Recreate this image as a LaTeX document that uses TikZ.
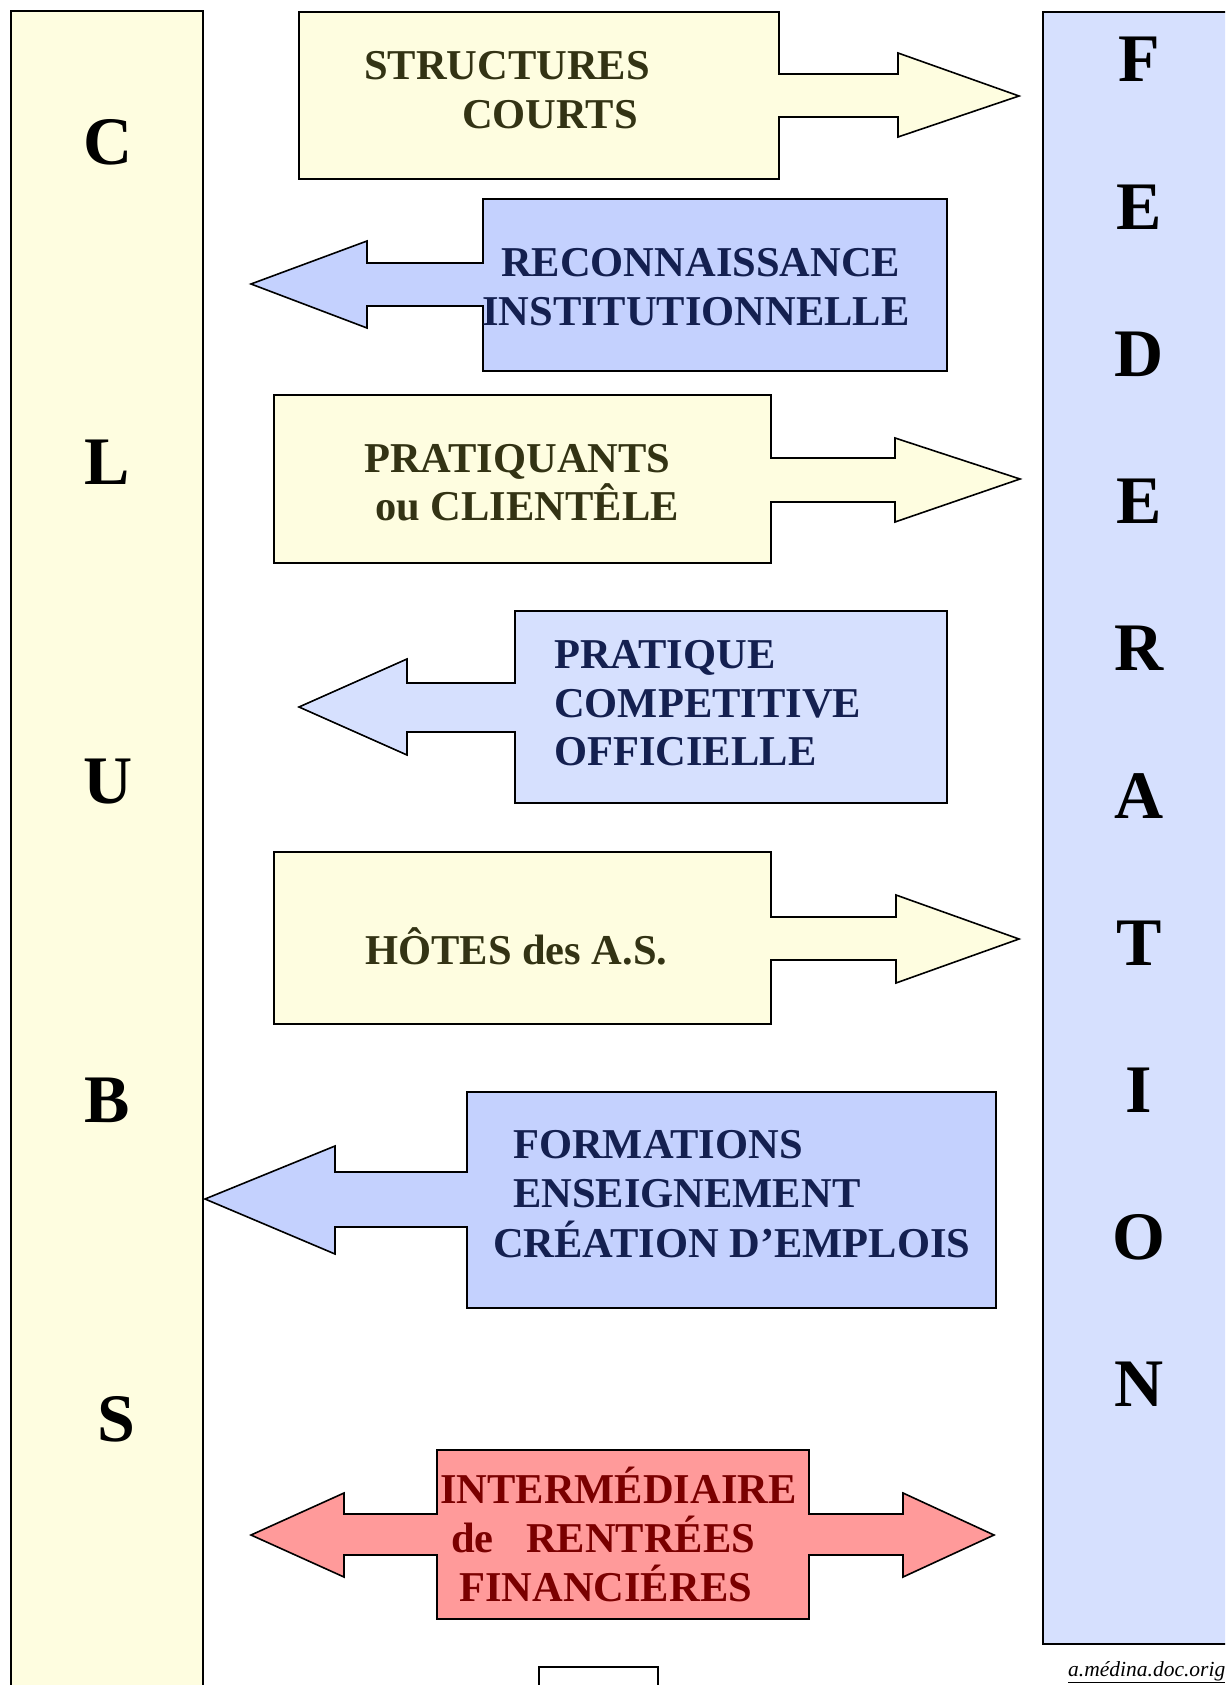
\documentclass[tikz,border=0pt]{standalone}
\usepackage{fontspec}
\setmainfont{Liberation Serif}
\definecolor{yfill}{HTML}{FEFDE0}
\definecolor{lbfill}{HTML}{D6E0FE}
\definecolor{mbfill}{HTML}{C4D1FE}
\definecolor{pkfill}{HTML}{FF9A9A}
\definecolor{oltext}{HTML}{333314}
\definecolor{nvtext}{HTML}{142050}
\definecolor{mrtext}{HTML}{7A0000}
\tikzset{
  shapeline/.style={draw=black, line width=1.6pt, line join=miter},
  bigletter/.style={anchor=base, inner sep=0pt, font=\bfseries\fontsize{68}{70}\selectfont},
  boxtext/.style={anchor=base west, inner sep=0pt, font=\bfseries\fontsize{42.5}{48}\selectfont},
}
\begin{document}
\begin{tikzpicture}[x=1pt, y=-1pt]
\clip (0,0) rectangle (1225,1685);
\fill[white] (0,0) rectangle (1225,1685);
% columns
\draw[shapeline, fill=yfill] (11,11) rectangle (203,1700);
\draw[shapeline, fill=lbfill] (1043,12) rectangle (1240,1644);
% CLUBS letters
\foreach \l/\x/\y [count=\i] in {C/108/165, L/107/484, U/108/803, B/107/1122, S/116/1441}
  \node[bigletter] (club\i) at (\x,\y) {\l};
% FEDERATION letters
\foreach \l [count=\i] in {F,E,D,E,R,A,T,I,O,N}
  \node[bigletter] (fed\i) at (1139,{82+(\i-1)*147.2}) {\l};
% Box 1 : STRUCTURES COURTS (right arrow)
\draw[shapeline, fill=yfill] (299,12) -- (779,12) -- (779,74) -- (898,74) -- (898,53) -- (1019,96) -- (898,137) -- (898,117) -- (779,117) -- (779,179) -- (299,179) -- cycle;
\node[boxtext, text=oltext] (t1a) at (364,80) {STRUCTURES};
\node[boxtext, text=oltext] (t1b) at (462,129) {COURTS};
% Box 2 : RECONNAISSANCE INSTITUTIONNELLE (left arrow)
\draw[shapeline, fill=mbfill] (483,199) -- (947,199) -- (947,371) -- (483,371) -- (483,306) -- (367,306) -- (367,328) -- (251,284) -- (367,241) -- (367,263) -- (483,263) -- cycle;
\node[boxtext, text=nvtext] (t2a) at (501,277) {RECONNAISSANCE};
\node[boxtext, text=nvtext] (t2b) at (482,325) {INSTITUTIONNELLE};
% Box 3 : PRATIQUANTS ou CLIENTELE (right arrow)
\draw[shapeline, fill=yfill] (274,395) -- (771,395) -- (771,458) -- (895,458) -- (895,438) -- (1020,479) -- (895,522) -- (895,502) -- (771,502) -- (771,563) -- (274,563) -- cycle;
\node[boxtext, text=oltext] (t3a) at (364,472) {PRATIQUANTS};
\node[boxtext, text=oltext] (t3b) at (375,520) {ou CLIENTÊLE};
% Box 4 : PRATIQUE COMPETITIVE OFFICIELLE (left arrow)
\draw[shapeline, fill=lbfill] (515,611) -- (947,611) -- (947,803) -- (515,803) -- (515,732) -- (407,732) -- (407,755) -- (299,707) -- (407,659) -- (407,683) -- (515,683) -- cycle;
\node[boxtext, text=nvtext] (t4a) at (554,668) {PRATIQUE};
\node[boxtext, text=nvtext] (t4b) at (554,717) {COMPETITIVE};
\node[boxtext, text=nvtext] (t4c) at (554,765) {OFFICIELLE};
% Box 5 : HOTES des A.S. (right arrow)
\draw[shapeline, fill=yfill] (274,852) -- (771,852) -- (771,917) -- (896,917) -- (896,895) -- (1019,939) -- (896,983) -- (896,960) -- (771,960) -- (771,1024) -- (274,1024) -- cycle;
\node[boxtext, text=oltext] (t5a) at (365,964) {HÔTES des A.S.};
% Box 6 : FORMATIONS ... (left arrow)
\draw[shapeline, fill=mbfill] (467,1092) -- (996,1092) -- (996,1308) -- (467,1308) -- (467,1227) -- (335,1227) -- (335,1254) -- (205,1199) -- (335,1146) -- (335,1172) -- (467,1172) -- cycle;
\node[boxtext, text=nvtext] (t6a) at (513,1158) {FORMATIONS};
\node[boxtext, text=nvtext] (t6b) at (513,1207) {ENSEIGNEMENT};
\node[boxtext, text=nvtext] (t6c) at (493,1257) {CRÉATION D’EMPLOIS};
% Box 7 : INTERMEDIAIRE (double arrow)
\draw[shapeline, fill=pkfill] (437,1450) -- (809,1450) -- (809,1514) -- (903,1514) -- (903,1493) -- (994,1535) -- (903,1577) -- (903,1555) -- (809,1555) -- (809,1619) -- (437,1619) -- (437,1555) -- (344,1555) -- (344,1577) -- (251,1535) -- (344,1493) -- (344,1514) -- (437,1514) -- cycle;
\node[boxtext, text=mrtext] (t7a) at (440,1503) {INTERMÉDIAIRE};
\node[boxtext, text=mrtext] (t7b) at (451,1552) {de};
\node[boxtext, text=mrtext] (t7c) at (526,1552) {RENTRÉES};
\node[boxtext, text=mrtext] (t7d) at (459,1601) {FINANCIÉRES};
% small box at bottom
\draw[shapeline, fill=white] (539,1667) rectangle (658,1700);
% footer
\node[anchor=base west, inner sep=0pt, font=\itshape\fontsize{21.5}{24}\selectfont] (foot) at (1068,1676) {\underline{a.médina.doc.orig}};
\end{tikzpicture}
\end{document}
